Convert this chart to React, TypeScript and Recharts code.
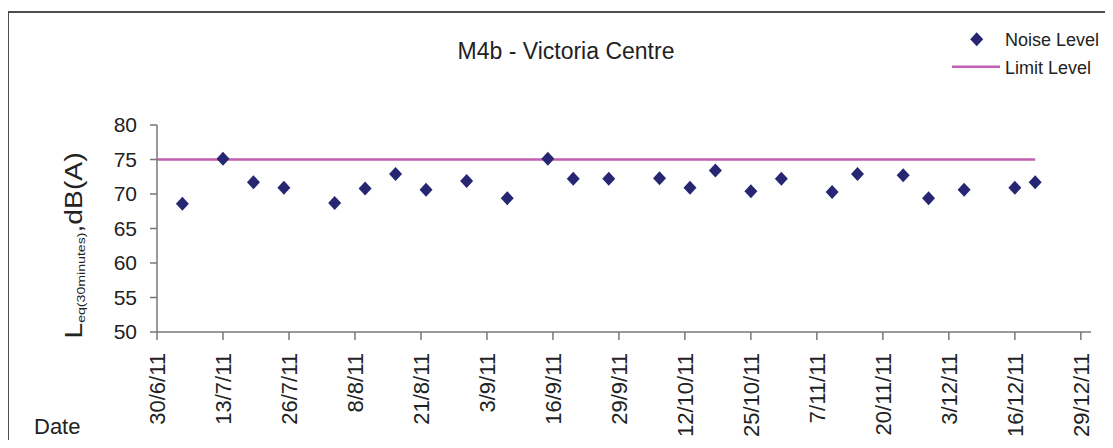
import React from "react";
import { ScatterChart, Scatter, XAxis, YAxis } from "recharts";

// dates are ISO strings, values in dB(A)
const axisStart = "2011-06-30";
const axisEnd = "2011-12-31";
const tickDates = [
  "2011-06-30", "2011-07-13", "2011-07-26", "2011-08-08", "2011-08-21",
  "2011-09-03", "2011-09-16", "2011-09-29", "2011-10-12", "2011-10-25",
  "2011-11-07", "2011-11-20", "2011-12-03", "2011-12-16", "2011-12-29",
];
const yTicks = [50, 55, 60, 65, 70, 75, 80];

const noiseDates = [
  "2011-07-05", "2011-07-13", "2011-07-19", "2011-07-25", "2011-08-04",
  "2011-08-10", "2011-08-16", "2011-08-22", "2011-08-30", "2011-09-07",
  "2011-09-15", "2011-09-20", "2011-09-27", "2011-10-07", "2011-10-13",
  "2011-10-18", "2011-10-25", "2011-10-31", "2011-11-10", "2011-11-15",
  "2011-11-24", "2011-11-29", "2011-12-06", "2011-12-16", "2011-12-20",
];
const noiseValues = [
  68.6, 75.1, 71.7, 70.9, 68.7,
  70.8, 72.9, 70.6, 71.9, 69.4,
  75.1, 72.2, 72.2, 72.3, 70.9,
  73.4, 70.4, 72.2, 70.3, 72.9,
  72.7, 69.4, 70.6, 70.9, 71.7,
];

const limitDates = ["2011-06-30", "2011-12-20"];
const limitValues = [75, 75];

const NAVY = "#262673";
const PINK = "#C35FB0";
const FONT = "'Liberation Sans', Arial, sans-serif";

const day = (s: string) =>
  Date.UTC(+s.slice(0, 4), +s.slice(5, 7) - 1, +s.slice(8, 10)) / 86400000;

const fmtDate = (d: number) => {
  const dt = new Date(d * 86400000);
  return `${dt.getUTCDate()}/${dt.getUTCMonth() + 1}/${String(dt.getUTCFullYear()).slice(2)}`;
};

const noiseData = noiseDates.map((d, i) => ({ x: day(d), y: noiseValues[i] }));
const limitData = limitDates.map((d, i) => ({ x: day(d), y: limitValues[i] }));

const Diamond = (p: any) => {
  const { cx, cy } = p;
  if (cx == null || cy == null) return <g />;
  return (
    <polygon
      points={`${cx},${cy - 7} ${cx + 6.5},${cy} ${cx},${cy + 7} ${cx - 6.5},${cy}`}
      fill={NAVY}
    />
  );
};

const XTick = (p: any) => {
  const { x, y, payload } = p;
  return (
    <text
      x={x}
      y={y}
      transform={`rotate(-90, ${x}, ${y})`}
      textAnchor="end"
      dy="0.355em"
      fontSize={22}
      fontFamily={FONT}
      fill="#222"
    >
      {fmtDate(payload.value)}
    </text>
  );
};

export default function App() {
  return (
    <div
      style={{
        position: "relative",
        width: 1113,
        height: 448,
        margin: "-8px 0 -8px -8px",
        background: "#fff",
        overflow: "hidden",
      }}
    >
      <ScatterChart
        width={1113}
        height={448}
        margin={{ top: 125, right: 22, bottom: 0, left: 0 }}
      >
        <XAxis
          dataKey="x"
          type="number"
          domain={[day(axisStart), day(axisEnd)]}
          ticks={tickDates.map(day)}
          interval={0}
          height={116}
          tickSize={8}
          tickMargin={13}
          stroke="#777"
          strokeWidth={1.5}
          tick={<XTick />}
        />
        <YAxis
          dataKey="y"
          type="number"
          domain={[50, 80]}
          ticks={yTicks}
          interval={0}
          width={157}
          tickSize={7}
          tickMargin={13}
          stroke="#777"
          strokeWidth={1.5}
          tick={{ fill: "#222", fontSize: 21, fontFamily: FONT }}
        />
        <Scatter
          name="Limit Level"
          data={limitData}
          line={{ stroke: PINK, strokeWidth: 2.5 }}
          shape={() => <g />}
          isAnimationActive={false}
        />
        <Scatter
          name="Noise Level"
          data={noiseData}
          fill={NAVY}
          shape={<Diamond />}
          isAnimationActive={false}
        />
      </ScatterChart>

      <svg
        width={1113}
        height={448}
        style={{ position: "absolute", left: 0, top: 0, pointerEvents: "none" }}
        fontFamily={FONT}
      >
        <line x1={8} y1={12} x2={1113} y2={12} stroke="#4d4d4d" strokeWidth={2} />
        <line x1={8} y1={12} x2={8} y2={448} stroke="#4d4d4d" strokeWidth={2} />

        <text x={566} y={58.5} textAnchor="middle" fontSize={23} fill="#222">
          M4b - Victoria Centre
        </text>

        <text x={34} y={434} fontSize={22} fill="#222">
          Date
        </text>

        <text
          transform="translate(82,245.5) rotate(-90) scale(1.23,1)"
          textAnchor="middle"
          fontSize={23}
          fill="#222"
        >
          L
          <tspan fontSize={11.5} dy={3}>eq(30minutes)</tspan>
          <tspan dy={-3}>,dB(A)</tspan>
        </text>

        <polygon points="976.7,32.3 983.2,39.3 976.7,46.3 970.2,39.3" fill={NAVY} />
        <text x={1005} y={46} fontSize={18} fill="#222">
          Noise Level
        </text>
        <line x1={952} y1={66.7} x2={1000} y2={66.7} stroke={PINK} strokeWidth={2.5} />
        <text x={1005} y={74} fontSize={18} fill="#222">
          Limit Level
        </text>
      </svg>
    </div>
  );
}
